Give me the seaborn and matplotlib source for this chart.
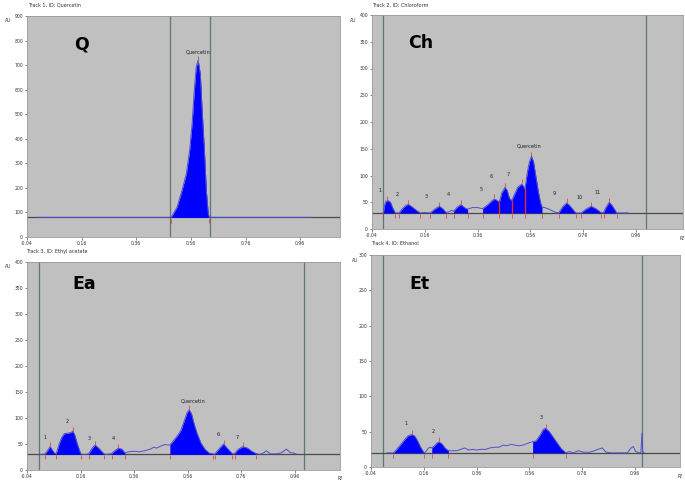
import numpy as np
import pandas as pd
import matplotlib
matplotlib.use("Agg")
import matplotlib.pyplot as plt
import seaborn as sns

# ---------------- data ----------------
# Panel Q (Track 1, Quercetin standard)
q_rf = [0.0, 0.30, 0.487, 0.509, 0.527, 0.543, 0.555, 0.564, 0.572, 0.579, 0.586,
        0.594, 0.600, 0.609, 0.616, 0.623, 0.627, 0.80, 1.0]
q_au = [80, 80, 80, 122, 190, 258, 353, 462, 597, 692, 720,
        665, 529, 353, 190, 95, 80, 80, 80]
q_peaks = [(0.487, 0.627)]
q_apex_rf = [0.586]
q_apex_au = [720]
q_labels = ["Quercetin"]
q_label_rf = [0.586]
q_label_au = [745]
q_base = 80
q_fronts = [0.484, 0.628]

# Panel Ch (Track 2, Chloroform extract)
ch_rf = [0.0, 0.003, 0.008, 0.013, 0.022, 0.030, 0.038, 0.048, 0.055,
         0.063, 0.075, 0.088, 0.097, 0.110, 0.125, 0.142, 0.160, 0.180,
         0.200, 0.215, 0.228, 0.240, 0.250, 0.262,
         0.269, 0.283, 0.297, 0.310, 0.322, 0.340, 0.360, 0.379,
         0.400, 0.415, 0.423, 0.432, 0.442,
         0.452, 0.464, 0.472, 0.480, 0.489,
         0.500, 0.512, 0.522, 0.527, 0.534, 0.539,
         0.548, 0.556, 0.564, 0.572, 0.580, 0.590, 0.598, 0.604,
         0.615, 0.635, 0.655, 0.667, 0.683, 0.698, 0.712, 0.732, 0.742,
         0.752, 0.770, 0.790, 0.808, 0.827, 0.832,
         0.837, 0.848, 0.859, 0.872, 0.887, 0.930]
ch_au = [30, 30, 45, 52, 53, 50, 40, 30, 30,
         30, 38, 44, 46, 42, 36, 30, 31, 30,
         38, 42.5, 38, 31, 32, 35,
         33, 41, 45.5, 40, 37, 40, 40, 38,
         46, 53, 56, 54, 50,
         68, 78, 72, 58, 53,
         65, 78, 82, 84, 80, 74,
         105, 125, 136, 125, 100, 70, 50, 41,
         40, 36, 31, 30, 42, 49, 42, 30, 30,
         30, 37, 42.5, 38, 31, 31,
         31, 42, 50, 42, 30, 30]
ch_peaks = [(0.003, 0.048), (0.063, 0.142), (0.180, 0.240), (0.269, 0.322),
            (0.379, 0.604), (0.667, 0.732), (0.752, 0.827), (0.837, 0.887)]
ch_splits = [0.442, 0.489, 0.539]
ch_apex_rf = [0.015, 0.097, 0.215, 0.297, 0.423, 0.464, 0.527, 0.564, 0.698, 0.790, 0.859]
ch_apex_au = [53, 46, 42.5, 45.5, 56, 78, 84, 136, 49, 42.5, 50]
ch_labels = ["1", "2", "3", "4", "5", "6", "7", "Quercetin", "9", "10", "11"]
ch_label_rf = [-0.01, 0.057, 0.167, 0.249, 0.375, 0.413, 0.476, 0.555, 0.652, 0.748, 0.816]
ch_label_au = [67, 60, 56, 60, 70, 94, 97, 150, 61, 55, 64]
ch_base = 30
ch_fronts = [0.0, 0.998]

# Panel Ea (Track 3, Ethyl acetate extract)
ea_rf = [0.010, 0.028, 0.040, 0.047, 0.055, 0.062, 0.069,
         0.080, 0.090, 0.100, 0.115, 0.125, 0.131, 0.138, 0.148, 0.161,
         0.175, 0.190, 0.205, 0.215, 0.228, 0.248, 0.260,
         0.277, 0.290, 0.302, 0.315, 0.326,
         0.340, 0.360, 0.380, 0.400, 0.420, 0.435, 0.445, 0.460, 0.475, 0.485, 0.494,
         0.510, 0.525, 0.535, 0.548, 0.558, 0.566, 0.575, 0.585, 0.596, 0.610,
         0.625, 0.640, 0.656, 0.662,
         0.680, 0.695, 0.710, 0.728, 0.736,
         0.750, 0.767, 0.785, 0.800, 0.815,
         0.830, 0.845, 0.855, 0.870, 0.890, 0.910, 0.930, 0.945, 0.955, 0.966]
ea_au = [30, 31, 40, 45, 38, 33, 31,
         50, 63, 70, 71, 72, 75, 68, 50, 31,
         30, 31, 43, 48, 42, 31, 30,
         32, 38, 42, 40, 33,
         35, 36, 35, 37, 40, 44, 42, 46, 49, 48, 48,
         58, 68, 76, 95, 110, 116, 108, 88, 70, 52,
         40, 33, 31, 31,
         42, 50, 41, 31, 32,
         40, 45, 42, 36, 32,
         30, 33, 37, 31, 31, 33, 40, 33, 33, 31]
ea_peaks = [(0.028, 0.069), (0.069, 0.161), (0.190, 0.248), (0.277, 0.326),
            (0.494, 0.656), (0.662, 0.728), (0.736, 0.815)]
ea_splits = []
ea_apex_rf = [0.047, 0.131, 0.215, 0.302, 0.566, 0.695, 0.767]
ea_apex_au = [45, 75, 48, 42, 116, 50, 45]
ea_labels = ["1", "2", "3", "4", "Quercetin", "6", "7"]
ea_label_rf = [0.028, 0.109, 0.194, 0.283, 0.581, 0.674, 0.745]
ea_label_au = [58, 88, 56, 55, 127, 63, 58]
ea_base = 30
ea_fronts = [0.003, 0.995]

# Panel Et (Track 4, Ethanol extract)
et_rf = [0.020, 0.045, 0.060, 0.075, 0.090, 0.100, 0.114, 0.125, 0.135, 0.148, 0.161,
         0.168, 0.178, 0.185, 0.190,
         0.200, 0.210, 0.217, 0.228, 0.240, 0.253,
         0.270, 0.285, 0.300, 0.315, 0.330, 0.345, 0.360, 0.375, 0.395, 0.410,
         0.430, 0.445, 0.460, 0.475, 0.490, 0.505, 0.520, 0.535, 0.550, 0.565, 0.572,
         0.585, 0.600, 0.612, 0.621, 0.635, 0.650, 0.665, 0.680, 0.698,
         0.710, 0.725, 0.745, 0.765, 0.790, 0.820, 0.835, 0.850, 0.870, 0.900,
         0.930, 0.945, 0.953, 0.962, 0.975, 0.982, 0.986, 0.989, 0.995]
et_au = [20, 20, 26, 33, 40, 44, 46, 44, 38, 28, 20,
         22, 27, 28, 27,
         30, 34, 35.5, 33, 27, 23,
         23, 23, 25, 27, 24, 25, 24, 25, 25, 27,
         28, 28, 31, 30, 32, 31, 30, 31, 33, 35, 36,
         37, 45, 53, 55, 50, 42, 34, 26, 20,
         22, 20, 23, 21, 21, 25, 27, 21, 20, 20,
         20, 27, 29, 22, 20, 21, 48, 22, 20]
et_peaks = [(0.045, 0.161), (0.190, 0.253), (0.572, 0.698)]
et_splits = []
et_apex_rf = [0.114, 0.217, 0.621]
et_apex_au = [46, 35.5, 55]
et_labels = ["1", "2", "3"]
et_label_rf = [0.091, 0.196, 0.604]
et_label_au = [58, 46, 66]
et_base = 20
et_fronts = [0.007, 0.988]

x_ticks = [-0.04, 0.16, 0.36, 0.56, 0.76, 0.96]
x_tick_labels = ["-0.04", "0.16", "0.36", "0.56", "0.76", "0.96"]

titles = ["Track 1, ID: Quercetin", "Track 2, ID: Chloroform",
          "Track 3, ID: Ethyl acetate", "Track 4, ID: Ethanol"]
letters = ["Q", "Ch", "Ea", "Et"]

# ---------------- styling ----------------
sns.set_theme(style="white")
plt.rcParams['font.family'] = ['DejaVu Sans']

W, H = 685, 482
fig = plt.figure(figsize=(W / 100, H / 100), dpi=100)
fig.patch.set_facecolor("white")

def rect(l, r, t, b):
    return [l / W, 1 - b / H, (r - l) / W, (b - t) / H]

panels = [
    dict(ax=fig.add_axes(rect(27, 340, 16, 237)), rf=q_rf, au=q_au, peaks=q_peaks,
         splits=[], apx=q_apex_rf, apy=q_apex_au, labels=q_labels, lx=q_label_rf,
         ly=q_label_au, base=q_base, fronts=q_fronts, ymax=900, ystep=100,
         xmax=1.105, letter_pos=(0.15, 0.87), title_px=(28, 5), au_px=(5, 21), rf_px=None),
    dict(ax=fig.add_axes(rect(372, 683, 15, 229)), rf=ch_rf, au=ch_au, peaks=ch_peaks,
         splits=ch_splits, apx=ch_apex_rf, apy=ch_apex_au, labels=ch_labels, lx=ch_label_rf,
         ly=ch_label_au, base=ch_base, fronts=ch_fronts, ymax=400, ystep=50,
         xmax=1.138, letter_pos=(0.115, 0.87), title_px=(372, 5), au_px=(350, 20), rf_px=(680, 239)),
    dict(ax=fig.add_axes(rect(27, 340, 262, 470)), rf=ea_rf, au=ea_au, peaks=ea_peaks,
         splits=ea_splits, apx=ea_apex_rf, apy=ea_apex_au, labels=ea_labels, lx=ea_label_rf,
         ly=ea_label_au, base=ea_base, fronts=ea_fronts, ymax=400, ystep=50,
         xmax=1.13, letter_pos=(0.145, 0.895), title_px=(26, 251), au_px=(5, 267), rf_px=(338, 478)),
    dict(ax=fig.add_axes(rect(371, 680, 255, 467)), rf=et_rf, au=et_au, peaks=et_peaks,
         splits=et_splits, apx=et_apex_rf, apy=et_apex_au, labels=et_labels, lx=et_label_rf,
         ly=et_label_au, base=et_base, fronts=et_fronts, ymax=300, ystep=50,
         xmax=1.13, letter_pos=(0.123, 0.865), title_px=(371, 243), au_px=(352, 260), rf_px=(678, 476)),
]

bg = "#c0c0c0"
fill_col = "#0000ff"
trace_col = "#4f4fd0"
front_col = "#5f7676"
base_col = "#4a4a4a"
red = "#e03020"

for i, p in enumerate(panels):
    ax = p["ax"]
    ax.set_facecolor(bg)
    rf = np.array(p["rf"], dtype=float)
    au = np.array(p["au"], dtype=float)
    df = pd.DataFrame({"Rf": rf, "AU": au})

    # development fronts / boundaries
    for f in p["fronts"]:
        ax.axvline(f, color=front_col, lw=0.9, zorder=1)
    # baseline
    ax.axhline(p["base"], color=base_col, lw=0.9, zorder=2)

    # filled peaks
    for a, b in p["peaks"]:
        m = (rf >= a - 1e-9) & (rf <= b + 1e-9)
        ax.fill_between(rf[m], au[m], p["base"], color=fill_col, lw=0, zorder=3)

    # trace
    sns.lineplot(data=df, x="Rf", y="AU", ax=ax, color=trace_col, lw=0.7,
                 estimator=None, sort=True, legend=False, zorder=4)

    # red separators inside composite peak groups
    for s in p["splits"]:
        yv = np.interp(s, rf, au)
        ax.plot([s, s], [p["base"], yv], color=red, lw=1.0, zorder=5)

    # red tick marks at apexes and peak bounds
    off = p["ymax"] * 0.012
    ax.scatter(p["apx"], np.array(p["apy"]) + off, marker="|", s=6, color=red,
               linewidths=0.5, zorder=6)
    bounds = sorted(set([a for a, b in p["peaks"]] + [b for a, b in p["peaks"]] + p["splits"]))
    ax.scatter(bounds, [p["base"] - off * 1.2] * len(bounds), marker="|", s=6,
               color=red, linewidths=0.5, zorder=6)

    # peak labels
    for t, x, y in zip(p["labels"], p["lx"], p["ly"]):
        ax.text(x, y, t, fontsize=3.6, color="#202020", ha="center", va="bottom", zorder=7)

    # big panel letter
    ax.text(p["letter_pos"][0], p["letter_pos"][1], letters[i], transform=ax.transAxes,
            fontsize=12.5, fontweight="heavy", color="black", ha="left", va="center",
            family=["DejaVu Sans"])

    ax.set_xlim(-0.04, p["xmax"])
    ax.set_ylim(0, p["ymax"])
    ax.set_xticks(x_ticks)
    ax.set_xticklabels(x_tick_labels)
    ax.set_yticks(np.arange(0, p["ymax"] + 1, p["ystep"]))
    ax.tick_params(axis="both", labelsize=3.3, length=1.8, width=0.4, pad=1,
                   colors="#333333", direction="out")
    ax.tick_params(bottom=True, left=True)
    ax.set_xlabel("")
    ax.set_ylabel("")
    for sp in ax.spines.values():
        sp.set_color("#9a9a9a")
        sp.set_linewidth(0.6)

    fig.text(p["title_px"][0] / W, 1 - p["title_px"][1] / H, titles[i],
             fontsize=3.5, color="#333333", ha="left", va="center")
    fig.text(p["au_px"][0] / W, 1 - p["au_px"][1] / H, "AU",
             fontsize=3.3, color="#333333", ha="left", va="center")
    if p["rf_px"] is not None:
        fig.text(p["rf_px"][0] / W, 1 - p["rf_px"][1] / H, "Rf",
                 fontsize=3.3, color="#333333", ha="left", va="center")

fig.savefig("out.png", dpi=100, facecolor="white")
